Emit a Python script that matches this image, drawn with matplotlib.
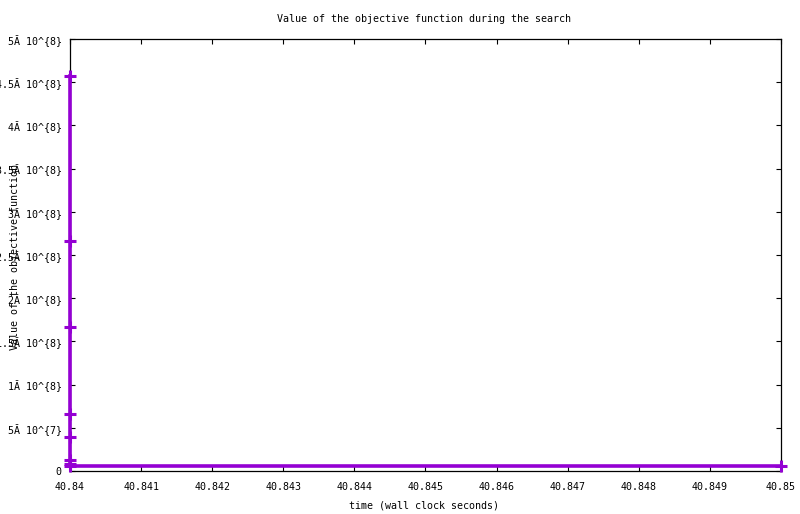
import matplotlib
matplotlib.use("Agg")
import matplotlib.pyplot as plt
from matplotlib.ticker import FixedLocator, FixedFormatter

# Data
times = [40.84, 40.84, 40.84, 40.84, 40.84, 40.84, 40.84, 40.84, 40.85]
values = [4.57e8, 2.66e8, 1.667e8, 6.6e7, 3.9e7, 1.25e7, 8.5e6, 6.0e6, 6.0e6]

x_ticks = [40.84, 40.841, 40.842, 40.843, 40.844, 40.845, 40.846, 40.847, 40.848, 40.849, 40.85]
x_tick_labels = ["40.84", "40.841", "40.842", "40.843", "40.844", "40.845",
                 "40.846", "40.847", "40.848", "40.849", "40.85"]
y_ticks = [0, 5e7, 1e8, 1.5e8, 2e8, 2.5e8, 3e8, 3.5e8, 4e8, 4.5e8, 5e8]
y_tick_labels = ["0", "5Ă 10^{7}", "1Ă 10^{8}", "1.5Ă 10^{8}", "2Ă 10^{8}",
                 "2.5Ă 10^{8}", "3Ă 10^{8}", "3.5Ă 10^{8}", "4Ă 10^{8}",
                 "4.5Ă 10^{8}", "5Ă 10^{8}"]

title = "Value of the objective function during the search"
xlabel = "time (wall clock seconds)"
ylabel = "Value of the objective function"

W, H = 800, 514
fig = plt.figure(figsize=(W / 100, H / 100), dpi=100)
left, right, top, bottom = 70, 781, 39, 471
ax = fig.add_axes([left / W, 1 - bottom / H, (right - left) / W, (bottom - top) / H])

font = dict(family="DejaVu Sans Mono", size=7.2)

ax.plot(times, values, color="#9400D3", linewidth=2.6, marker="+",
        markersize=8, markeredgewidth=2.2, clip_on=False, zorder=3)

ax.set_xlim(40.84, 40.85)
ax.set_ylim(0, 5e8)
ax.xaxis.set_major_locator(FixedLocator(x_ticks))
ax.xaxis.set_major_formatter(FixedFormatter(x_tick_labels))
ax.yaxis.set_major_locator(FixedLocator(y_ticks))
ax.yaxis.set_major_formatter(FixedFormatter(y_tick_labels))
ax.tick_params(direction="in", length=3.5, width=0.8, top=True, right=True,
               labelsize=7.2, color="black")
ax.tick_params(axis="y", pad=6)
ax.tick_params(axis="x", pad=8)
for lab in ax.get_xticklabels() + ax.get_yticklabels():
    lab.set_fontfamily("DejaVu Sans Mono")
for s in ax.spines.values():
    s.set_linewidth(0.9)
    s.set_color("black")

fig.text(424 / W, 1 - 19 / H, title, ha="center", va="center", **font)
fig.text(424 / W, 1 - 505 / H, xlabel, ha="center", va="center", **font)
fig.text(15 / W, 1 - 257 / H, ylabel, ha="center", va="center", rotation=90, **font)

fig.savefig("out.png", dpi=100)
